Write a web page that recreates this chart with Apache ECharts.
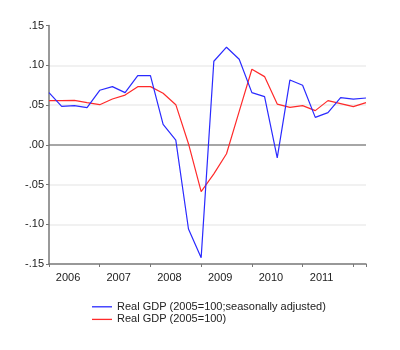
<!DOCTYPE html>
<html>
<head>
<meta charset="utf-8">
<script src="https://cdn.jsdelivr.net/npm/echarts@6/dist/echarts.min.js"></script>
<style>
  html, body { margin: 0; padding: 0; background: #fff; }
  #chart { width: 400px; height: 350px; }
</style>
</head>
<body>
<div id="chart"></div>
<script>
// quarterly, 2006Q1 .. 2012Q2
var years = ['2006', '2007', '2008', '2009', '2010', '2011'];
var gdpSA = [0.0656, 0.0483, 0.0492, 0.0467, 0.0685, 0.0731, 0.0656, 0.0870, 0.0870, 0.0256,
             0.0058, -0.1060, -0.1420, 0.1050, 0.1227, 0.1076, 0.0656, 0.0605, -0.0164, 0.0815,
             0.0748, 0.0344, 0.0404, 0.0593, 0.0575, 0.0588];
var gdp = [0.0555, 0.0555, 0.0559, 0.0530, 0.0504, 0.0575, 0.0625, 0.0731, 0.0731, 0.0647,
           0.0504, 0.0013, -0.0589, -0.0366, -0.0113, 0.0420, 0.0950, 0.0857, 0.0512, 0.0470,
           0.0492, 0.0429, 0.0555, 0.0517, 0.0479, 0.0530];
var seriesNames = ['Real GDP (2005=100;seasonally adjusted)', 'Real GDP (2005=100)'];

var chart = echarts.init(document.getElementById('chart'));
var font = 'Liberation Sans, Arial, sans-serif';

function pts(arr) {
    return arr.map(function (v, i) { return [i, v]; });
}

chart.setOption({
    animation: false,
    grid: { left: 49, top: 25.5, right: 34, bottom: 86 },
    legend: {
        orient: 'vertical',
        left: 92,
        top: 300.5,
        padding: 0,
        icon: 'rect',
        itemWidth: 20,
        itemHeight: 1.3,
        itemGap: 0,
        textStyle: { fontFamily: font, fontSize: 11, color: '#222', lineHeight: 12.6 },
        data: seriesNames
    },
    xAxis: [{
        type: 'value',
        min: 0,
        max: 25,
        interval: 4,
        axisLine: { onZero: false, lineStyle: { color: '#777', width: 1.5 } },
        axisTick: { show: true, length: 3, lineStyle: { color: '#777' } },
        axisLabel: { show: false },
        splitLine: { show: false }
    }, {
        type: 'value',
        min: 0,
        max: 25,
        interval: 0.5,
        position: 'bottom',
        axisLine: { show: false, onZero: false },
        axisTick: { show: false },
        splitLine: { show: false },
        axisLabel: {
            margin: 8,
            fontFamily: font,
            fontSize: 11,
            color: '#222',
            formatter: function (v) {
                var k = (v - 1.5) / 4;
                if (Math.abs(k - Math.round(k)) < 1e-6 && years[Math.round(k)]) return years[Math.round(k)];
                return '';
            }
        }
    }],
    yAxis: {
        type: 'value',
        min: -0.15,
        max: 0.15,
        interval: 0.05,
        axisLine: { show: true, lineStyle: { color: '#777', width: 1.5 } },
        axisTick: { show: true, length: 3, lineStyle: { color: '#777' } },
        axisLabel: {
            margin: 5,
            fontFamily: font,
            fontSize: 11,
            color: '#222',
            formatter: function (v) {
                if (Math.abs(v) < 1e-9) return '.00';
                return v.toFixed(2).replace('0.', '.');
            }
        },
        splitLine: {
            show: true,
            lineStyle: {
                color: ['rgba(0,0,0,0)', '#ececec', '#ececec', '#888', '#ececec', '#ececec', 'rgba(0,0,0,0)'],
                width: 1.5
            }
        }
    },
    series: [{
        name: seriesNames[0],
        type: 'line',
        data: pts(gdpSA),
        symbol: 'none',
        lineStyle: { color: '#2a2aff', width: 1.2 },
        itemStyle: { color: '#2a2aff' },
        z: 3
    }, {
        name: seriesNames[1],
        type: 'line',
        data: pts(gdp),
        symbol: 'none',
        lineStyle: { color: '#ff2a2a', width: 1.2 },
        itemStyle: { color: '#ff2a2a' },
        z: 2
    }]
});
</script>
</body>
</html>
